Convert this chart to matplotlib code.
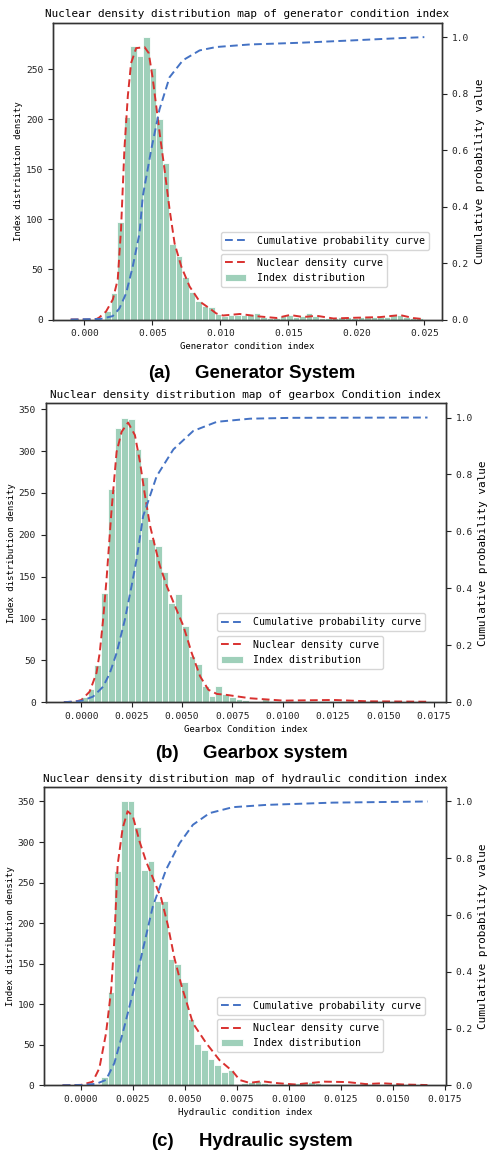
import matplotlib
matplotlib.use("Agg")
import matplotlib.pyplot as plt
import numpy as np

# ---- panel (a): generator ----
gen_bin_start = 0.001475
gen_bin_width = 0.000478
gen_hist = [8, 26, 97, 202, 273, 263, 282, 251, 200, 156, 75, 63, 42, 27, 18, 13, 12, 5,
            3, 4, 4, 4, 5, 6, 2, 1, 1, 3, 4, 2, 3, 6, 3, 1, 1, 1, 2, 2, 1, 2, 2, 2, 2, 2, 5, 4, 2, 1, 1]
gen_kde_x = [-0.001, 0.0005, 0.0009, 0.0011, 0.0016, 0.0021, 0.00246, 0.0027, 0.00295, 0.0032,
             0.00344, 0.00381, 0.00443, 0.00474, 0.00504, 0.00529, 0.0056, 0.0059, 0.00627,
             0.00664, 0.00713, 0.00774, 0.00848, 0.00922, 0.00971, 0.0102, 0.01143, 0.0129,
             0.01414, 0.01512, 0.0161, 0.01709, 0.01832, 0.0198, 0.02175, 0.02323, 0.02421, 0.025]
gen_kde_y = [0, 0, 0.5, 2, 8, 20, 40, 90, 170, 223, 256, 271, 272, 266, 240, 213, 180, 150, 110,
             76, 53, 33, 18, 11, 6, 4, 5.5, 3, 1.5, 4.5, 2.5, 3.7, 1, 1.7, 2.4, 4.4, 1.4, 0.3]
gen_cdf_x = [-0.001, 0.0012, 0.00209, 0.00258, 0.00307, 0.00356, 0.00406, 0.0043, 0.00492,
             0.00553, 0.00627, 0.00725, 0.00848, 0.00971, 0.01217, 0.01586, 0.01954, 0.02323, 0.025]
gen_cdf_y = [0, 0.002, 0.012, 0.039, 0.092, 0.187, 0.305, 0.436, 0.601, 0.744, 0.858, 0.918,
             0.953, 0.965, 0.974, 0.980, 0.988, 0.9965, 1.0]

# ---- panel (b): gearbox ----
gear_bin_start = -0.00002
gear_bin_width = 0.000334
gear_hist = [6, 16, 44, 131, 255, 328, 340, 338, 303, 269, 195, 187, 155, 118, 129, 91, 55, 46,
             20, 8, 19, 10, 6, 4, 3, 2, 2, 4, 2, 1, 1, 1, 1, 1, 1, 1, 1, 1, 1, 1, 1, 1, 1, 1,
             1, 1, 1, 1, 1, 1, 1, 1]
gear_kde_x = [-0.00087, -0.0003, 0.0, 0.00041, 0.00075, 0.00091, 0.00108, 0.00125, 0.0015,
              0.00175, 0.002, 0.00232, 0.00266, 0.00291, 0.00316, 0.00341, 0.00365, 0.0039,
              0.00424, 0.00465, 0.00507, 0.00548, 0.0059, 0.00631, 0.00673, 0.00723, 0.00839,
              0.01005, 0.01254, 0.0142, 0.0172]
gear_kde_y = [0.2, 0.8, 2.8, 12.7, 35, 59, 99, 147, 230, 299, 323, 334, 319, 287, 247, 211, 187,
              163, 139, 115, 91, 59, 31, 15, 10, 8.8, 4.8, 2, 2.8, 1.2, 0.7]
gear_cdf_x = [-0.00087, 0.0, 0.00058, 0.00108, 0.00141, 0.00175, 0.00216, 0.00249, 0.00274,
              0.00307, 0.00374, 0.00457, 0.00556, 0.00673, 0.00839, 0.0105, 0.0172]
gear_cdf_y = [0, 0.005, 0.02, 0.055, 0.102, 0.173, 0.29, 0.407, 0.501, 0.654, 0.794, 0.888,
              0.953, 0.985, 0.996, 0.999, 1.0]

# ---- panel (c): hydraulic ----
hyd_bin_start = 0.00096
hyd_bin_width = 0.000321
hyd_hist = [10, 115, 264, 350, 350, 318, 265, 276, 227, 227, 156, 150, 128, 82, 51, 44, 33, 25,
            17, 19, 2, 3, 4, 5, 3, 2, 1, 1, 2, 3, 4, 4, 3, 2, 2, 1, 2, 2, 1, 1]
hyd_kde_x = [-0.00089, 0.0, 0.00056, 0.00088, 0.0012, 0.00145, 0.0016, 0.00176, 0.002, 0.00224,
             0.00249, 0.00281, 0.00313, 0.00345, 0.00385, 0.00417, 0.00449, 0.00482, 0.00538,
             0.00602, 0.00666, 0.0073, 0.00763, 0.0081, 0.0087, 0.0095, 0.0103, 0.0117, 0.0128,
             0.0137, 0.0145, 0.0155, 0.01666]
hyd_kde_y = [0, 0.5, 4.4, 21, 64, 118, 179, 272, 317, 338, 332, 301, 276, 256, 231, 198, 157, 124,
             76.5, 52, 31, 17, 6.5, 3, 5, 2.5, 1, 4.5, 4, 1.5, 2.5, 1, 0.3]
hyd_cdf_x = [-0.00089, 0.0, 0.00072, 0.0012, 0.0016, 0.002, 0.00249, 0.00297, 0.00345, 0.00409,
             0.00474, 0.00538, 0.00618, 0.0073, 0.00891, 0.01212, 0.01666]
hyd_cdf_y = [0, 0.001, 0.005, 0.019, 0.078, 0.183, 0.324, 0.477, 0.63, 0.76, 0.853, 0.918,
             0.959, 0.98, 0.988, 0.996, 1.0]

titles = ["Nuclear density distribution map of generator condition index",
          "Nuclear density distribution map of gearbox Condition index",
          "Nuclear density distribution map of hydraulic condition index"]
xlabels = ["Generator condition index", "Gearbox Condition index", "Hydraulic condition index"]
tags = ["(a)", "(b)", "(c)"]
captions = ["Generator System", "Gearbox system", "Hydraulic system"]

MONO = "DejaVu Sans Mono"
BAR_C = "#9fd0ba"
KDE_C = "#d9312f"
CDF_C = "#4472c4"

W, H = 489, 1151
fig = plt.figure(figsize=(W / 100, H / 100), dpi=100)


def px_box(left, right, top, bottom):
    return [left / W, 1 - bottom / H, (right - left) / W, (bottom - top) / H]


panels = [
    dict(box=px_box(53, 442, 23, 319.5), start=gen_bin_start, width=gen_bin_width, hist=gen_hist,
         kx=gen_kde_x, ky=gen_kde_y, cx=gen_cdf_x, cy=gen_cdf_y,
         xticks=[0.0, 0.005, 0.010, 0.015, 0.020, 0.025], fmt="%.3f", yticks=[0, 50, 100, 150, 200, 250],
         cap_y=378.3, tag_x=148, cap_x=195, leg_x=0.431, leg1_y=0.296, leg2_y=0.221),
    dict(box=px_box(45.7, 445.7, 403.3, 702.3), start=gear_bin_start, width=gear_bin_width, hist=gear_hist,
         kx=gear_kde_x, ky=gear_kde_y, cx=gear_cdf_x, cy=gear_cdf_y,
         xticks=list(np.arange(8) * 0.0025), fmt="%.4f", yticks=[0, 50, 100, 150, 200, 250, 300, 350],
         cap_y=758.3, tag_x=155, cap_x=203, leg_x=0.428, leg1_y=0.298, leg2_y=0.222),
    dict(box=px_box(44.3, 445.7, 787.3, 1085.3), start=hyd_bin_start, width=hyd_bin_width, hist=hyd_hist,
         kx=hyd_kde_x, ky=hyd_kde_y, cx=hyd_cdf_x, cy=hyd_cdf_y,
         xticks=list(np.arange(8) * 0.0025), fmt="%.4f", yticks=[0, 50, 100, 150, 200, 250, 300, 350],
         cap_y=1145.7, tag_x=150.7, cap_x=199, leg_x=0.430, leg1_y=0.297, leg2_y=0.222),
]

leg_kw = dict(loc="upper left", borderaxespad=0, handlelength=2.2, handletextpad=1.1,
              prop={"family": MONO, "size": 7.1})

for i, p in enumerate(panels):
    ax = fig.add_axes(p["box"])
    heights = np.array(p["hist"], dtype=float)
    lefts = p["start"] + p["width"] * np.arange(len(heights))
    ax.bar(lefts, heights, width=p["width"], align="edge", color=BAR_C,
           edgecolor="white", linewidth=0.6, label="Index distribution")
    ax.plot(p["kx"], p["ky"], ls="--", color=KDE_C, lw=1.4, dashes=(4, 2.2),
            label="Nuclear density curve")
    x0, x1 = min(p["kx"]), max(p["kx"])
    pad = (x1 - x0) * 0.05
    ax.set_xlim(x0 - pad, x1 + pad)
    ax.set_ylim(0, max(heights) * 1.05)
    ax.set_xticks(p["xticks"])
    ax.set_xticklabels([p["fmt"] % t for t in p["xticks"]], family=MONO, fontsize=6.8)
    ax.set_yticks(p["yticks"])
    ax.set_yticklabels([str(t) for t in p["yticks"]], family=MONO, fontsize=6.8)
    ax.set_xlabel(xlabels[i], family=MONO, fontsize=6.5, labelpad=3)
    ax.set_ylabel("Index distribution density", family=MONO, fontsize=6.5, labelpad=2)
    ax.set_title(titles[i], family=MONO, fontsize=7.9, pad=4)
    ax.tick_params(length=3.5, width=0.8, colors="#222222")

    ax2 = ax.twinx()
    ax2.plot(p["cx"], p["cy"], ls="--", color=CDF_C, lw=1.4, dashes=(4, 2.2),
             label="Cumulative probability curve")
    ax2.set_ylim(0, 1.05)
    ax2.set_yticks([0.0, 0.2, 0.4, 0.6, 0.8, 1.0])
    ax2.set_yticklabels(["0.0", "0.2", "0.4", "0.6", "0.8", "1.0"], family=MONO, fontsize=6.8)
    ax2.set_ylabel("Cumulative probability value", family=MONO, fontsize=7.9)
    ax2.tick_params(length=3.5, width=0.8, colors="#222222")
    for a in (ax, ax2):
        for s in a.spines.values():
            s.set_color("#333333")
            s.set_linewidth(1.0)

    ax2.legend(bbox_to_anchor=(p["leg_x"], p["leg1_y"]), **leg_kw)
    ax.legend(bbox_to_anchor=(p["leg_x"], p["leg2_y"]), **leg_kw)

    fig.text(p["tag_x"] / W, 1 - p["cap_y"] / H, tags[i], family="Liberation Sans",
             weight="bold", fontsize=13.4, va="baseline")
    fig.text(p["cap_x"] / W, 1 - p["cap_y"] / H, captions[i], family="Liberation Sans",
             weight="bold", fontsize=13.4, va="baseline")

fig.savefig("out.png", dpi=100)
